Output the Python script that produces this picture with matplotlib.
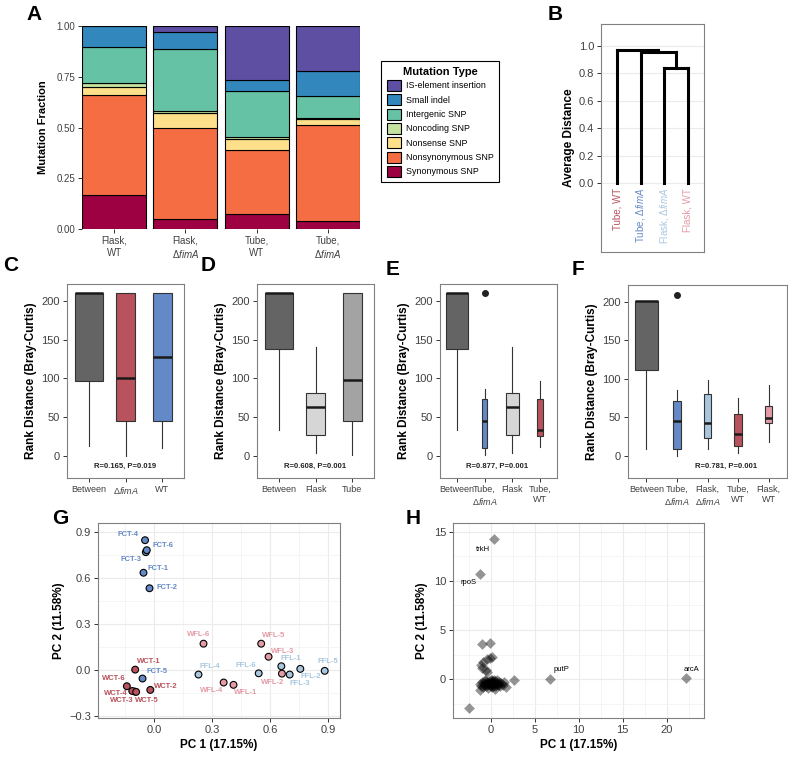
import matplotlib
matplotlib.use('Agg')
import matplotlib.pyplot as plt
from matplotlib.patches import Patch

# fonts (Liberation Sans ~ Arial/Helvetica)
plt.rcParams['font.family'] = 'Liberation Sans'
plt.rcParams['mathtext.fontset'] = 'custom'
plt.rcParams['mathtext.rm'] = 'Liberation Sans'
plt.rcParams['mathtext.it'] = 'Liberation Sans:italic'
plt.rcParams['mathtext.bf'] = 'Liberation Sans:bold'

# ---------------- data ----------------
# panel A: mutation fractions per condition
conditions = ['Flask,\nWT', 'Flask,\nΔ$\\it{fimA}$', 'Tube,\nWT', 'Tube,\nΔ$\\it{fimA}$']
mutation_types = ['Synonymous SNP', 'Nonsynonymous SNP', 'Nonsense SNP', 'Noncoding SNP',
                  'Intergenic SNP', 'Small indel', 'IS-element insertion']
synonymous = [0.168, 0.048, 0.075, 0.041]
nonsynonymous = [0.493, 0.452, 0.315, 0.469]
nonsense = [0.037, 0.071, 0.052, 0.033]
noncoding = [0.020, 0.011, 0.013, 0.004]
intergenic = [0.177, 0.305, 0.223, 0.108]
small_indel = [0.105, 0.082, 0.055, 0.125]
is_insertion = [0.0, 0.031, 0.267, 0.220]
type_colors = ['#9e0142', '#f46d43', '#fee08b', '#c4e2a0', '#66c2a5', '#3288bd', '#5e4fa2']

# panel B: dendrogram
leaf_labels = ['Tube, WT', 'Tube, Δ$\\it{fimA}$', 'Flask, Δ$\\it{fimA}$', 'Flask, WT']
merge_heights = [0.837, 0.959, 0.971]  # (3,4) ; (2,(3,4)) ; (1,rest)

# group colours
col_between = '#646464'
col_tube_ko = '#6389c6'
col_tube_wt = '#b8525c'
col_flask_ko = '#a8c7df'
col_flask_wt = '#e49ba6'
leaf_colors = [col_tube_wt, col_tube_ko, col_flask_ko, col_flask_wt]

# panels C-F: box stats (whisker low, q1, median, q3, whisker high)
c_groups = ['Between', 'Δ$\\it{fimA}$', 'WT']
c_stats = [(12, 96, 211, 211, 211), (0, 45, 101, 211, 211), (10, 45, 127, 211, 211)]
c_text = 'R=0.165, P=0.019'

d_groups = ['Between', 'Flask', 'Tube']
d_stats = [(33, 138, 211, 211, 211), (3, 26, 63, 81, 141), (1, 45, 98, 211, 211)]
d_text = 'R=0.608, P=0.001'

e_groups = ['Between', 'Tube,\nΔ$\\it{fimA}$', 'Flask', 'Tube,\nWT']
e_stats = [(33, 138, 211, 211, 211), (1, 10, 45, 73, 86), (3, 26, 63, 81, 141), (11, 25, 33, 73, 97)]
e_outliers = [[], [210], [], []]
e_text = 'R=0.877, P=0.001'

f_groups = ['Between', 'Tube,\nΔ$\\it{fimA}$', 'Flask,\nΔ$\\it{fimA}$', 'Tube,\nWT', 'Flask,\nWT']
f_stats = [(9, 111, 201, 201, 201), (0, 9, 45, 71, 85), (9, 23, 42, 80, 99),
           (3, 13, 28, 54, 75), (18, 42, 49, 65, 92)]
f_outliers = [[], [209], [], [], []]
f_text = 'R=0.781, P=0.001'

# panel G: PCA of populations
g_names = ['FCT-1', 'FCT-2', 'FCT-3', 'FCT-4', 'FCT-5', 'FCT-6',
           'WCT-1', 'WCT-2', 'WCT-3', 'WCT-4', 'WCT-5', 'WCT-6',
           'FFL-1', 'FFL-2', 'FFL-3', 'FFL-4', 'FFL-5', 'FFL-6',
           'WFL-1', 'WFL-2', 'WFL-3', 'WFL-4', 'WFL-5', 'WFL-6']
g_pc1 = [-0.055, -0.024, -0.043, -0.047, -0.060, -0.038,
         -0.098, -0.020, -0.100, -0.113, -0.093, -0.141,
         0.657, 0.755, 0.700, 0.229, 0.881, 0.540,
         0.410, 0.660, 0.591, 0.359, 0.553, 0.255]
g_pc2 = [0.636, 0.535, 0.770, 0.848, -0.053, 0.783,
         0.005, -0.127, -0.138, -0.134, -0.140, -0.103,
         0.027, 0.010, -0.027, -0.027, -0.003, -0.019,
         -0.094, -0.021, 0.089, -0.079, 0.174, 0.174]
g_label_x = [0.022, 0.066, -0.119, -0.133, 0.017, 0.048,
             -0.029, 0.062, -0.167, -0.200, -0.038, -0.210,
             0.707, 0.811, 0.755, 0.286, 0.897, 0.476,
             0.471, 0.612, 0.663, 0.295, 0.617, 0.229]
g_label_y = [0.662, 0.537, 0.725, 0.885, -0.010, 0.811,
             0.055, -0.107, -0.196, -0.152, -0.196, -0.055,
             0.075, -0.038, -0.088, 0.027, 0.059, 0.031,
             -0.146, -0.077, 0.124, -0.129, 0.226, 0.232]
g_group_colors = {'FCT': col_tube_ko, 'WCT': col_tube_wt, 'FFL': col_flask_ko, 'WFL': col_flask_wt}

# panel H: gene loadings
h_pc1 = [0.41, -1.22, -0.99, -0.08, -0.84, -0.46, -0.1, 0.1, -1.1, -0.99, -0.38, -0.5,
         2.69, 6.74, 22.15, -2.43, 1.74, -1.22, 0.5,
         -1.2, -1.0, -0.8, -0.7, -0.6, -0.5, -0.4, -0.3, -0.2, -0.1, 0.0, 0.0, 0.1, 0.2,
         0.3, 0.4, 0.5, 0.6, 0.7, 0.8, 0.9, 1.0, 1.2, 1.4, 1.5, -0.9, -0.3, 0.2, -1.1,
         -0.6, 0.1, -0.2, 0.3, 0.5, -0.4, 1.1, 0.7, -0.8, 0.0, 0.4]
h_pc2 = [14.23, 10.7, 3.62, 3.69, 1.79, 2.03, 2.2, 2.3, 1.5, 1.12, 0.78, 0.9,
         -0.07, 0.03, 0.1, -2.88, -0.81, -1.09, -0.97,
         -0.5, -0.3, -0.6, -0.2, -0.45, -0.7, -0.3, -0.5, -0.15, -0.6, -0.35, -0.05, -0.5, -0.25,
         -0.65, -0.4, -0.2, -0.55, -0.35, -0.6, -0.3, -0.5, -0.4, -0.6, -0.3, -0.8, -0.85, -0.8, -0.7,
         -0.1, -0.1, -0.4, -0.3, -0.7, -0.6, -0.7, -0.1, -0.4, -0.7, -0.1]
h_genes = ['trkH', 'rpoS', 'putP', 'arcA']
h_gene_x = [-0.84, -2.55, 8.07, 22.84]
h_gene_y = [13.2, 9.8, 0.95, 1.02]

# ---------------- figure ----------------
W, H = 788, 759
fig = plt.figure(figsize=(W / 100, H / 100), dpi=100)


def add_ax(l, t, r, b):
    return fig.add_axes([l / W, 1 - b / H, (r - l) / W, (b - t) / H])


def style_bw(ax, labelsize=8):
    for s in ax.spines.values():
        s.set_color('#808080')
        s.set_linewidth(0.8)
    ax.tick_params(length=3, width=0.7, color='#333333', labelcolor='#404040',
                   labelsize=labelsize, pad=2)


def letter(x, y, s):
    fig.text(x / W, 1 - y / H, s, fontsize=15, fontweight='bold', ha='left', va='top')


# ---- A ----
axA = add_ax(82, 26, 360, 229)
series = [synonymous, nonsynonymous, nonsense, noncoding, intergenic, small_indel, is_insertion]
xpos = range(1, len(conditions) + 1)
bottom = [0.0] * len(conditions)
for vals, c in zip(series, type_colors):
    axA.bar(xpos, vals, bottom=bottom, width=0.9, color=c, edgecolor='black', linewidth=0.8)
    bottom = [b + v for b, v in zip(bottom, vals)]
axA.set_xlim(0.55, 4.45)
axA.set_ylim(0, 1)
axA.set_yticks([0, 0.25, 0.5, 0.75, 1.0])
axA.set_yticklabels(['0.00', '0.25', '0.50', '0.75', '1.00'])
axA.set_xticks(list(xpos))
axA.set_xticklabels(conditions, fontsize=6.5)
for s in axA.spines.values():
    s.set_visible(False)
axA.tick_params(length=3, width=0.7, color='#333333', labelcolor='#404040', labelsize=7, pad=2)
axA.set_ylabel('Mutation Fraction', fontsize=8, fontweight='bold', labelpad=6)
letter(26, 5, 'A')

handles = [Patch(facecolor=c, edgecolor='black', linewidth=0.8) for c in type_colors][::-1]
leg = fig.legend(handles, mutation_types[::-1], loc='upper left',
                 bbox_to_anchor=(377 / W, 1 - 57 / H), fontsize=6.4, title='Mutation Type',
                 title_fontproperties={'weight': 'bold', 'size': 8},
                 handlelength=1.6, handleheight=1.55, labelspacing=0.36, handletextpad=0.6,
                 borderpad=0.6, fancybox=False, edgecolor='black', framealpha=1)
leg.get_frame().set_linewidth(0.8)

# ---- B ----
axB = add_ax(601, 24, 704, 252)
h0, h1, h2 = merge_heights
x34 = 3.5
x234 = (2 + x34) / 2
segs = [([3, 3], [0, h0]), ([4, 4], [0, h0]), ([3, 4], [h0, h0]),
        ([2, 2], [0, h1]), ([x34, x34], [h0, h1]), ([2, x34], [h1, h1]),
        ([1, 1], [0, h2]), ([x234, x234], [h1, h2]), ([1, x234], [h2, h2])]
for xs, ys in segs:
    axB.plot(xs, ys, color='black', linewidth=2.2, solid_capstyle='projecting', zorder=3)
for i, (lab, c) in enumerate(zip(leaf_labels, leaf_colors)):
    axB.text(i + 1, -0.035, lab, rotation=90, ha='center', va='top', color=c, fontsize=7)
axB.set_xlim(0.3, 4.7)
axB.set_ylim(-0.50, 1.16)
axB.set_yticks([0, 0.2, 0.4, 0.6, 0.8, 1.0])
axB.set_yticklabels(['0.0', '0.2', '0.4', '0.6', '0.8', '1.0'])
axB.set_xticks([])
axB.grid(axis='y', color='#ebebeb', linewidth=0.8, zorder=0)
axB.set_axisbelow(True)
style_bw(axB, labelsize=8)
axB.set_ylabel('Average Distance', fontsize=8.5, fontweight='bold', labelpad=3)
letter(548, 5, 'B')


# ---- C-F ----
def box_panel(ax, groups, stats, colors, widths, outliers, text, text_x):
    bstats = []
    for (lo, q1, med, q3, hi), fl in zip(stats, outliers):
        bstats.append(dict(whislo=lo, q1=q1, med=med, q3=q3, whishi=hi, fliers=fl))
    bp = ax.bxp(bstats, positions=range(1, len(stats) + 1), widths=widths, patch_artist=True,
                showcaps=False,
                boxprops=dict(edgecolor='#333333', linewidth=0.8),
                whiskerprops=dict(color='#333333', linewidth=0.8),
                medianprops=dict(color='#1a1a1a', linewidth=1.8, solid_capstyle='butt'),
                flierprops=dict(marker='o', markerfacecolor='#222222', markeredgecolor='#222222',
                                markersize=4))
    for patch, c in zip(bp['boxes'], colors):
        patch.set_facecolor(c)
    ax.set_xlim(0.4, len(stats) + 0.6)
    ax.set_ylim(-29, 222)
    ax.set_yticks([0, 50, 100, 150, 200])
    ax.set_xticks(range(1, len(stats) + 1))
    ax.set_xticklabels(groups)
    style_bw(ax, labelsize=8)
    ax.tick_params(axis='x', labelsize=6.5)
    ax.set_ylabel('Rank Distance (Bray-Curtis)', fontsize=8.5, fontweight='bold', labelpad=3)
    ax.text(text_x, -14, text, ha='center', va='center', fontsize=5.5, fontweight='bold',
            color='#222222')


axC = add_ax(67, 284, 184, 478)
box_panel(axC, c_groups, c_stats, [col_between, col_tube_wt, col_tube_ko],
          [0.77, 0.52, 0.52], [[], [], []], c_text, 2.0)
letter(3, 256, 'C')

axD = add_ax(257, 284, 374, 478)
box_panel(axD, d_groups, d_stats, [col_between, '#d6d6d6', '#a3a3a3'],
          [0.77, 0.52, 0.52], [[], [], []], d_text, 2.0)
letter(201, 256, 'D')

axE = add_ax(440, 284, 557, 478)
box_panel(axE, e_groups, e_stats, [col_between, col_tube_ko, '#d6d6d6', col_tube_wt],
          [0.78, 0.21, 0.45, 0.22], e_outliers, e_text, 2.45)
letter(386, 260, 'E')

axF = add_ax(628, 285, 787, 478)
box_panel(axF, f_groups, f_stats,
          [col_between, col_tube_ko, col_flask_ko, col_tube_wt, col_flask_wt],
          [0.76, 0.24, 0.22, 0.24, 0.21], f_outliers, f_text, 3.6)
letter(572, 260, 'F')

# ---- G ----
axG = add_ax(98, 523, 340, 718)
g_cols = [g_group_colors[n[:3]] for n in g_names]
axG.scatter(g_pc1, g_pc2, s=24, c=g_cols, edgecolors='black', linewidths=0.8, zorder=3)
for n, lx, ly, c in zip(g_names, g_label_x, g_label_y, g_cols):
    axG.text(lx, ly, n, color=c, fontsize=5.5, fontweight='bold', ha='center', va='center', zorder=4)
axG.set_xlim(-0.29, 0.96)
axG.set_ylim(-0.31, 0.96)
axG.set_xticks([0.0, 0.3, 0.6, 0.9])
axG.set_xticks([-0.15, 0.15, 0.45, 0.75], minor=True)
axG.set_yticks([-0.3, 0.0, 0.3, 0.6, 0.9])
axG.set_yticks([-0.15, 0.15, 0.45, 0.75], minor=True)
axG.set_xticklabels(['0.0', '0.3', '0.6', '0.9'])
axG.set_yticklabels(['\u22120.3', '0.0', '0.3', '0.6', '0.9'])
axG.grid(which='major', color='#ebebeb', linewidth=0.8)
axG.grid(which='minor', color='#f2f2f2', linewidth=0.5)
axG.tick_params(which='minor', length=0)
axG.set_axisbelow(True)
style_bw(axG, labelsize=8)
axG.set_xlabel('PC 1 (17.15%)', fontsize=8.5, fontweight='bold', labelpad=3)
axG.set_ylabel('PC 2 (11.58%)', fontsize=8.5, fontweight='bold', labelpad=3)
letter(52, 509, 'G')

# ---- H ----
axH = add_ax(453, 523, 704, 718)
axH.scatter(h_pc1, h_pc2, marker='D', s=30, color='black', alpha=0.42, linewidths=0, zorder=3)
for g, gx, gy in zip(h_genes, h_gene_x, h_gene_y):
    axH.text(gx, gy, g, fontsize=5.5, ha='center', va='center', color='black', zorder=4)
axH.set_xlim(-4.28, 24.24)
axH.set_ylim(-3.93, 15.88)
axH.set_xticks([0, 5, 10, 15, 20])
axH.set_xticks([-2.5, 2.5, 7.5, 12.5, 17.5, 22.5], minor=True)
axH.set_yticks([0, 5, 10, 15])
axH.set_yticks([-2.5, 2.5, 7.5, 12.5], minor=True)
axH.grid(which='major', color='#ebebeb', linewidth=0.8)
axH.grid(which='minor', color='#f2f2f2', linewidth=0.5)
axH.tick_params(which='minor', length=0)
axH.set_axisbelow(True)
style_bw(axH, labelsize=8)
axH.set_xlabel('PC 1 (17.15%)', fontsize=8.5, fontweight='bold', labelpad=3)
axH.set_ylabel('PC 2 (11.58%)', fontsize=8.5, fontweight='bold', labelpad=4)
letter(406, 509, 'H')

fig.savefig('out.png', dpi=100)
